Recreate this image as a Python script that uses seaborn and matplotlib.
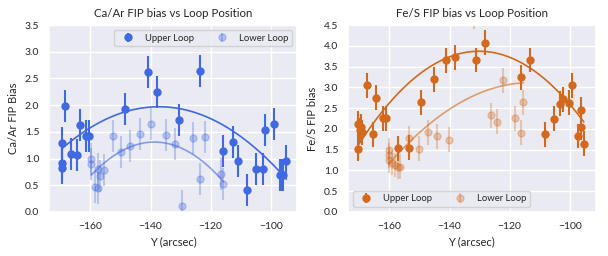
import matplotlib as mpl
import matplotlib.pyplot as plt
import numpy as np
import pandas as pd
import seaborn as sns

mpl.use("Agg")

# Ca/Ar FIP bias
ca_upper_y = [-169.6, -169.6, -169.6, -168.6, -166.6, -164.5, -163.5, -161.4, -160.5, -148.6,
              -140.7, -137.7, -130.7, -123.7, -115.8, -112.7, -110.8, -107.9, -104.8, -102.7,
              -101.9, -98.9, -96.9, -96.3, -95.8, -94.8]
ca_upper_val = [1.30, 0.91, 0.82, 1.98, 1.09, 1.07, 1.63, 1.42, 1.42, 1.93,
                2.62, 2.24, 1.72, 2.64, 1.14, 1.31, 0.95, 0.41, 0.81, 0.81,
                1.53, 1.64, 0.69, 0.70, 0.69, 0.96]
ca_upper_err = [0.30] * 26

ca_lower_y = [-159.7, -159.7, -158.5, -157.5, -157.6, -156.7, -155.6, -152.6, -149.7, -146.7,
              -143.6, -139.7, -134.7, -131.8, -129.7, -125.8, -123.7, -121.8, -116.7, -115.8]
ca_lower_val = [1.00, 0.89, 0.47, 0.44, 0.81, 0.67, 0.78, 1.42, 1.12, 1.23,
                1.46, 1.65, 1.44, 1.28, 0.11, 1.38, 0.61, 1.41, 0.71, 0.53]
ca_lower_err = [0.30] * 20

# Fe/S FIP bias
fe_upper_y = [-170.3, -170.3, -169.6, -169.8, -169.2, -167.3, -165.3, -164.3, -162.2, -161.3,
              -157.2, -153.4, -149.4, -145.3, -141.3, -138.2, -131.3, -128.3, -116.2, -113.3,
              -108.2, -105.2, -103.2, -102.3, -100.3, -99.2, -97.2, -96.4, -96.4, -95.3]
fe_upper_val = [1.52, 2.12, 2.05, 1.97, 1.92, 3.05, 1.87, 2.75, 2.26, 2.26,
                1.53, 1.55, 2.64, 3.19, 3.65, 3.72, 3.66, 4.08, 3.24, 3.66,
                1.87, 2.25, 2.61, 2.71, 2.63, 3.05, 1.83, 2.04, 2.46, 1.64]
fe_upper_err = [0.30] * 30

fe_lower_y = [-160.3, -160.3, -160.3, -159.2, -158.1, -157.2, -156.5, -153.4, -150.3, -147.2,
              -144.3, -140.3, -131.7, -126.3, -124.2, -122.2, -118.3, -116.2, -115.4]
fe_lower_val = [1.49, 1.37, 1.25, 1.19, 1.13, 1.09, 1.09, 1.78, 1.52, 1.92,
                1.82, 1.74, 4.70, 2.33, 2.17, 3.17, 2.26, 1.91, 2.64]
fe_lower_err = [0.30] * 19

# quadratic trend for Fe/S as shown in the source: [a, b, c] for a*(Y+130)**2 + b*(Y+130) + c
fe_upper_fit = [-0.00140, -0.0005, 3.87]
fe_lower_fit = [-0.00088, 0.0299, 2.861]

sns.set_theme(style="darkgrid")
plt.rcParams["font.family"] = ["Lato", "DejaVu Sans"]

fig, axes = plt.subplots(1, 2, figsize=(6.08, 2.56), dpi=100)
fig.subplots_adjust(left=0.0806, right=0.98, top=0.902, bottom=0.172, wspace=0.206)

panels = [
    (axes[0], "royalblue", ca_upper_y, ca_upper_val, ca_upper_err,
     ca_lower_y, ca_lower_val, ca_lower_err, None, None, 3.5,
     "Ca/Ar FIP bias vs Loop Position", "Ca/Ar FIP Bias", "upper right"),
    (axes[1], "#D2691E", fe_upper_y, fe_upper_val, fe_upper_err,
     fe_lower_y, fe_lower_val, fe_lower_err, fe_upper_fit, fe_lower_fit, 4.5,
     "Fe/S FIP bias vs Loop Position", "Fe/S FIP bias", "lower left"),
]

for (ax, color, uy, uv, ue, ly, lv, le, ufit, lfit, ytop,
     title, ylabel, loc) in panels:
    ax.errorbar(uy, uv, yerr=ue, fmt="o", color=color, ms=5, elinewidth=1.5,
                label="Upper Loop", zorder=3)
    ax.errorbar(ly, lv, yerr=le, fmt="o", color=color, ms=5, elinewidth=1.5,
                alpha=0.3, label="Lower Loop", zorder=2)

    if ufit is None:
        # least-squares quadratic through each loop
        up = pd.DataFrame({"Y": uy, "bias": uv})
        lo = pd.DataFrame({"Y": ly, "bias": lv})
        sns.regplot(data=up, x="Y", y="bias", order=2, ci=None, scatter=False,
                    color=color, line_kws={"lw": 1.2}, ax=ax)
        sns.regplot(data=lo, x="Y", y="bias", order=2, ci=None, scatter=False,
                    color=color, line_kws={"lw": 1.2, "alpha": 0.6}, ax=ax)
    else:
        for ys, fit, alpha in [(uy, ufit, 1.0), (ly, lfit, 0.6)]:
            xs = np.linspace(min(ys), max(ys), 100)
            curve = pd.DataFrame({"Y": xs, "bias": np.polyval(fit, xs + 130)})
            sns.lineplot(data=curve, x="Y", y="bias", color=color, lw=1.2,
                         alpha=alpha, ax=ax)

    ax.set_ylim(0, ytop)
    ax.set_yticks(np.arange(0, ytop + 0.01, 0.5))
    ax.set_xlim(-173.8, -91.3)
    ax.set_xticks([-160, -140, -120, -100])
    ax.set_title(title, fontsize=8.3)
    ax.set_xlabel("Y (arcsec)", fontsize=8)
    ax.set_ylabel(ylabel, fontsize=8)
    ax.tick_params(labelsize=7.5, pad=1)
    ax.legend(loc=loc, ncol=2, fontsize=6.8, frameon=True)

fig.savefig("out.png", dpi=100)
